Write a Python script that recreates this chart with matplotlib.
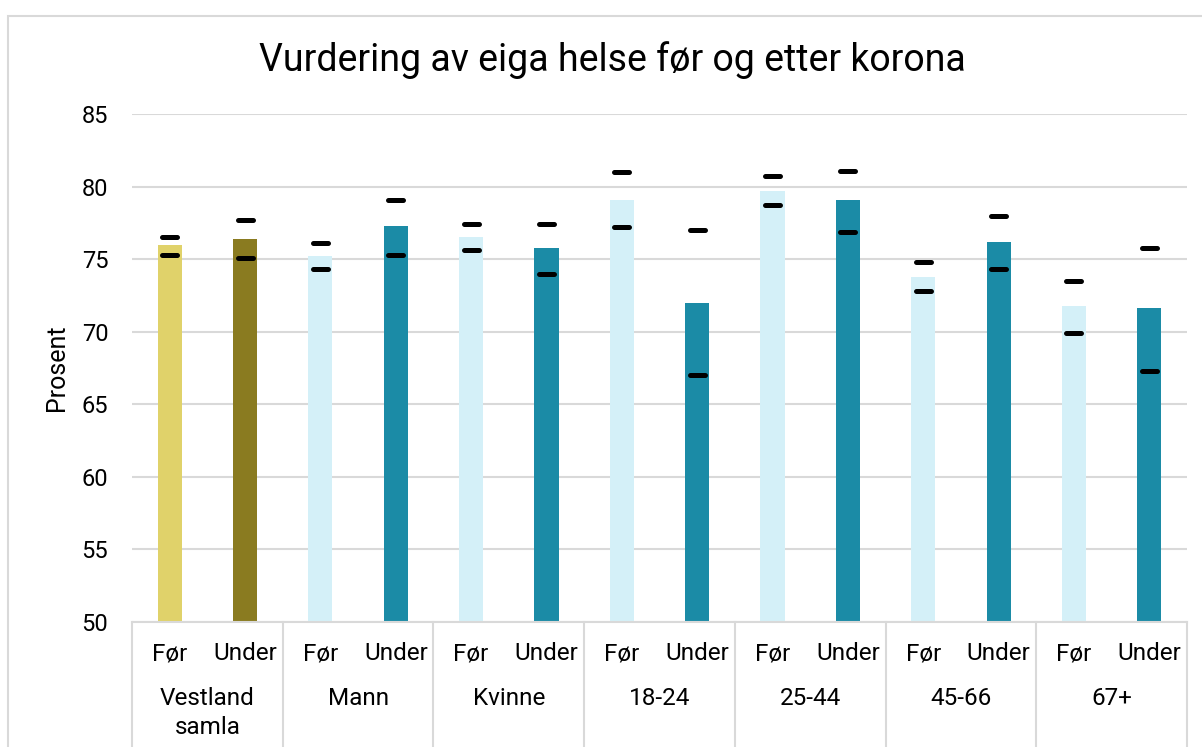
import matplotlib.pyplot as plt
from matplotlib.patches import Rectangle
import numpy as np

plt.rcParams['font.family'] = ['Roboto', 'DejaVu Sans']

groups = ['Vestland\nsamla', 'Mann', 'Kvinne', '18-24', '25-44', '45-66', '67+']
periods = ['Før', 'Under']

# share (prosent), before / during corona, with confidence limits
values = [76.0, 76.4, 75.2, 77.3, 76.5, 75.8, 79.1, 72.0, 79.7, 79.1, 73.8, 76.2, 71.8, 71.6]
ci_low = [75.3, 75.1, 74.3, 75.3, 75.6, 74.0, 77.2, 67.0, 78.7, 76.9, 72.8, 74.3, 69.9, 67.3]
ci_high = [76.5, 77.7, 76.1, 79.1, 77.4, 77.4, 81.0, 77.0, 80.7, 81.1, 74.8, 78.0, 73.5, 75.8]

colors = ['#E0D26A', '#8A7B20'] + ['#D4F0F8', '#1B8BA6'] * 6

W, H = 1202, 747
fig = plt.figure(figsize=(W / 100, H / 100), dpi=100)
ax = fig.add_axes([132 / W, 1 - 622 / H, (1187 - 132) / W, (622 - 114) / H])

x = np.arange(len(values))
ax.bar(x, np.array(values) - 50, bottom=50, width=0.32, color=colors, zorder=2)
ax.hlines(ci_low, x - 0.1, x + 0.1, colors='black', linewidth=3.6, capstyle='round', zorder=3)
ax.hlines(ci_high, x - 0.1, x + 0.1, colors='black', linewidth=3.6, capstyle='round', zorder=3)

ax.set_xlim(-0.5, len(values) - 0.5)
ax.set_ylim(50, 85)
ax.set_yticks(range(50, 86, 5))
ax.yaxis.grid(True, color='#D9D9D9', linewidth=1.5, zorder=0)
ax.set_axisbelow(True)
for s in ['top', 'right', 'left']:
    ax.spines[s].set_visible(False)
ax.spines['bottom'].set_color('#D9D9D9')
ax.spines['bottom'].set_linewidth(1.5)

ax.set_xticks(x)
ax.set_xticklabels(periods * len(groups))
ax.tick_params(axis='x', length=0, pad=14.5, labelsize=17.5)
ax.tick_params(axis='y', length=0, pad=17, labelsize=17)

ax.set_ylabel('Prosent', fontsize=18)
ax.yaxis.set_label_coords(-0.060, 0.5)

# group labels and separators under the axis
for i, g in enumerate(groups):
    ax.text(2 * i + 0.5, -65 / 508, g, transform=ax.get_xaxis_transform(),
            ha='center', va='top', fontsize=17.5, linespacing=1.33)
for k in range(len(groups) + 1):
    ax.plot([2 * k - 0.5, 2 * k - 0.5], [0, -130 / 508], transform=ax.get_xaxis_transform(),
            color='#D9D9D9', linewidth=1.5, clip_on=False)

fig.text(612 / W, 1 - 60 / H, 'Vurdering av eiga helse før og etter korona',
         ha='center', va='center', fontsize=27)

# chart border (clipped at right and bottom)
fig.patches.append(Rectangle((8 / W, -0.1), 1.2, 1 - 16 / H + 0.1, transform=fig.transFigure,
                             fill=False, edgecolor='#D9D9D9', linewidth=1.5))

fig.savefig('out.png', dpi=100)
